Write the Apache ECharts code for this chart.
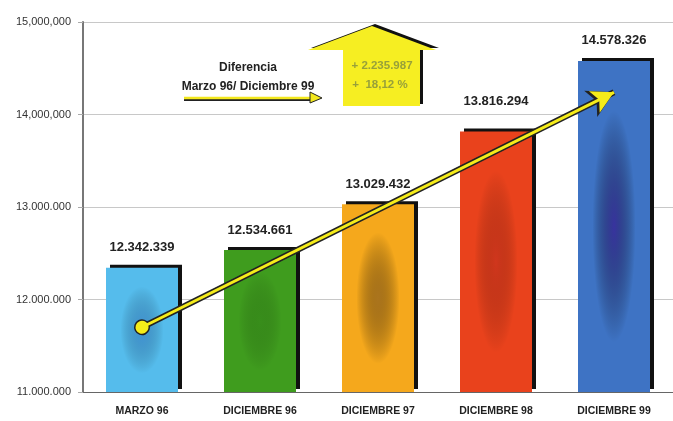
<!DOCTYPE html>
<html><head><meta charset="utf-8">
<script src="https://cdn.jsdelivr.net/npm/echarts@6/dist/echarts.min.js"></script>
<style>html,body{margin:0;padding:0;background:#fff}#c{width:673px;height:421px}</style>
</head><body><div id="c"></div>
<script>
const categories = ['MARZO 96','DICIEMBRE 96','DICIEMBRE 97','DICIEMBRE 98','DICIEMBRE 99'];
const values = [12342339, 12534661, 13029432, 13816294, 14578326];
const valueLabels = ['12.342.339','12.534.661','13.029.432','13.816.294','14.578.326'];
const tickLabels = {11000000:'11.000.000',12000000:'12.000.000',13000000:'13.000.000',14000000:'14,000,000',15000000:'15,000,000'};
const trendStart = [0, 11700000];
const trendEnd = [4, 14240000];
const diffText = ['+ 2.235.987','+  18,12 %'];
const noteText = ['Diferencia','Marzo 96/ Diciembre 99'];

const edgeColors = ['#55bcec','#3f9c1e','#f5a81c','#e9421c','#3e73c4'];
const centerColors = ['rgba(40,100,200,0.45)','rgba(40,110,20,0.3)','rgba(140,95,30,0.7)','rgba(180,40,30,0.45)','rgba(55,35,150,0.8)'];
const labelDist = [14,13,13,24,14];
const BAR_W = 72;

const chart = echarts.init(document.getElementById('c'));
chart.setOption({
  backgroundColor:'#fff',
  animation:false,
  grid:{left:83,right:-2,top:22,bottom:29},
  xAxis:{type:'category',data:categories,
    axisLine:{show:true,lineStyle:{color:'#666',width:1}},
    axisTick:{show:false},
    axisLabel:{color:'#222',fontFamily:'Liberation Sans',fontWeight:'bold',fontSize:10.5,margin:14}},
  yAxis:{type:'value',min:11000000,max:15000000,interval:1000000,
    axisLine:{show:true,lineStyle:{color:'#777',width:2}},
    axisTick:{show:true,length:5,lineStyle:{color:'#aaa'}},
    splitLine:{lineStyle:{color:'#c8c8c8',width:1}},
    axisLabel:{color:'#333',fontFamily:'Liberation Sans',fontSize:11,margin:12,formatter:v=>tickLabels[v]||''}},
  series:[{
    type:'bar',barWidth:BAR_W,z:2,
    data:values.map((v,i)=>({value:v,
      itemStyle:{color:edgeColors[i],shadowColor:'#111',shadowBlur:0,shadowOffsetX:4,shadowOffsetY:-3},
      label:{show:true,position:'top',distance:labelDist[i],formatter:valueLabels[i],
        color:'#222',fontFamily:'Liberation Sans',fontWeight:'bold',fontSize:13}}))
  },{
    type:'custom',z:3,silent:true,
    data:values.map((v,i)=>[i,v]),
    renderItem:function(params,api){
      const i=api.value(0);
      const top=api.coord([i,api.value(1)]);
      const bot=api.coord([i,11000000]);
      const h=bot[1]-top[1];
      const cy=top[1]+h*0.5;
      const sy=(h*0.7)/BAR_W;
      return {type:'rect',
        shape:{x:top[0]-BAR_W/2,y:cy-BAR_W/2,width:BAR_W,height:BAR_W},
        scaleY:sy,scaleX:0.6,originX:top[0],originY:cy,
        style:{fill:{type:'radial',x:0.5,y:0.5,r:0.5,colorStops:[
          {offset:0,color:centerColors[i]},{offset:1,color:'rgba(0,0,0,0)'}]}}};
    }
  },{
    type:'line',data:[],z:5,
    markLine:{silent:true,label:{show:false},
      data:[
        [{coord:trendStart,symbol:'circle',symbolSize:16,lineStyle:{color:'#222',width:6,type:'solid'},itemStyle:{color:'#222'}},
         {coord:trendEnd,symbol:'arrow',symbolSize:[22,26]}],
        [{coord:trendStart,symbol:'circle',symbolSize:13,lineStyle:{color:'#f5ec1a',width:3,type:'solid'},itemStyle:{color:'#f5ec1a'}},
         {coord:trendEnd,symbol:'arrow',symbolSize:[18,22]}]
      ]}
  }],
  graphic:[
    {type:'polygon',z:100,shape:{points:[[372,26],[436,50],[420,50],[420,106],[343,106],[343,50],[308,50]]},
      style:{fill:'#f6ee22',shadowColor:'#111',shadowBlur:0,shadowOffsetX:3,shadowOffsetY:-2}},
    {type:'text',z:101,x:382,y:66,style:{text:diffText[0],fill:'#97a03a',font:'bold 11.5px "Liberation Sans"',align:'center',verticalAlign:'middle'}},
    {type:'text',z:101,x:380,y:85,style:{text:diffText[1],fill:'#97a03a',font:'bold 11.5px "Liberation Sans"',align:'center',verticalAlign:'middle'}},
    {type:'text',z:101,x:248,y:68,style:{text:noteText[0],fill:'#222',font:'bold 12px "Liberation Sans"',align:'center',verticalAlign:'middle'}},
    {type:'text',z:101,x:248,y:87,style:{text:noteText[1],fill:'#222',font:'bold 12px "Liberation Sans"',align:'center',verticalAlign:'middle'}},
    {type:'polyline',z:100,shape:{points:[[184,99],[312,99]]},style:{stroke:'#222',lineWidth:4}},
    {type:'polyline',z:101,shape:{points:[[184,98],[312,98]]},style:{stroke:'#f3e81e',lineWidth:2.5}},
    {type:'polygon',z:101,shape:{points:[[310,92],[322,98],[310,103]]},style:{fill:'#f3e81e',stroke:'#222',lineWidth:1}}
  ]
});
</script></body></html>
